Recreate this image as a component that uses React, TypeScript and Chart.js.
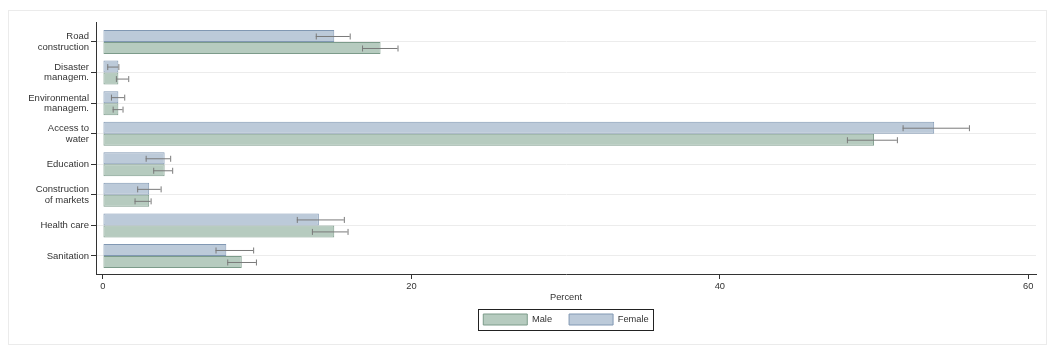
import React, { useEffect, useRef } from "react";
import { Chart, registerables } from "chart.js";

Chart.register(...registerables);

const categories: string[][] = [
  ["Road", "construction"],
  ["Disaster", "managem."],
  ["Environmental", "managem."],
  ["Access to", "water"],
  ["Education"],
  ["Construction", "of markets"],
  ["Health care"],
  ["Sanitation"],
];

const femaleValues = [15.0, 1.0, 1.0, 53.9, 4.0, 3.0, 14.0, 8.0];
const femaleLow = [13.8, 0.28, 0.52, 51.85, 2.77, 2.22, 12.57, 7.3];
const femaleHigh = [16.0, 1.0, 1.38, 56.15, 4.36, 3.74, 15.62, 9.74];

const maleValues = [18.0, 1.0, 1.0, 50.0, 4.0, 3.0, 15.0, 9.0];
const maleLow = [16.8, 0.84, 0.63, 48.24, 3.26, 2.05, 13.55, 8.06];
const maleHigh = [19.1, 1.64, 1.27, 51.48, 4.49, 3.09, 15.86, 9.92];

const xTicks = [0, 20, 40, 60];

const FONT = "'Liberation Sans', Arial, Helvetica, sans-serif";
const TEXT = "#333333";

const errorBarPlugin = {
  id: "errorBars",
  afterDatasetsDraw(chart: any) {
    const ctx = chart.ctx;
    const xs = chart.scales.x;
    chart.data.datasets.forEach((ds: any, di: number) => {
      const meta = chart.getDatasetMeta(di);
      if (meta.hidden) return;
      meta.data.forEach((el: any, i: number) => {
        const lo = xs.getPixelForValue(ds.errLow[i]);
        const hi = xs.getPixelForValue(ds.errHigh[i]);
        const y = el.y;
        ctx.save();
        ctx.strokeStyle = "#7a7a7a";
        ctx.lineWidth = 1;
        ctx.beginPath();
        ctx.moveTo(lo, y + 0.5);
        ctx.lineTo(hi, y + 0.5);
        ctx.moveTo(lo + 0.5, y - 2.5);
        ctx.lineTo(lo + 0.5, y + 3.5);
        ctx.moveTo(hi + 0.5, y - 2.5);
        ctx.lineTo(hi + 0.5, y + 3.5);
        ctx.stroke();
        ctx.restore();
      });
    });
  },
};

const legendBoxPlugin = {
  id: "legendBox",
  afterDraw(chart: any) {
    const lg = chart.legend;
    if (!lg || !lg.legendHitBoxes || !lg.legendHitBoxes.length) return;
    const hb = lg.legendHitBoxes;
    const left = Math.min(...hb.map((h: any) => h.left));
    const right = Math.max(...hb.map((h: any) => h.left + h.width));
    const top = Math.min(...hb.map((h: any) => h.top));
    const bottom = Math.max(...hb.map((h: any) => h.top + h.height));
    const ctx = chart.ctx;
    ctx.save();
    ctx.strokeStyle = "#222";
    ctx.lineWidth = 1;
    ctx.strokeRect(
      Math.round(left - 5) + 0.5,
      Math.round(top - 5) + 0.5,
      Math.round(right - left + 10),
      Math.round(bottom - top + 10)
    );
    ctx.restore();
  },
};

export default function App() {
  const ref = useRef<HTMLCanvasElement | null>(null);

  useEffect(() => {
    if (!ref.current) return;
    const chart = new Chart(ref.current, {
      type: "bar",
      data: {
        labels: categories,
        datasets: [
          {
            label: "Female",
            data: femaleValues,
            errLow: femaleLow,
            errHigh: femaleHigh,
            backgroundColor: "#bccad9",
            borderColor: "#8198b3",
            borderWidth: 1,
            borderSkipped: false,
          } as any,
          {
            label: "Male",
            data: maleValues,
            errLow: maleLow,
            errHigh: maleHigh,
            backgroundColor: "#b6cbbf",
            borderColor: "#7c9b8a",
            borderWidth: 1,
            borderSkipped: false,
          } as any,
        ],
      },
      options: {
        indexAxis: "y",
        responsive: false,
        animation: false,
        devicePixelRatio: 1,
        layout: { padding: { left: 0, right: 10, top: 11, bottom: 9 } },
        datasets: {
          bar: { categoryPercentage: 0.785, barPercentage: 1 },
        },
        scales: {
          x: {
            type: "linear",
            min: -0.45,
            max: 60.5,
            grid: {
              drawOnChartArea: false,
              tickLength: 5,
              tickColor: "#333",
            },
            border: { color: "#333", width: 1 },
            ticks: {
              color: TEXT,
              font: { family: FONT, size: 9.3 },
              padding: 2,
              stepSize: 20,
            },
            afterBuildTicks: (scale: any) => {
              scale.ticks = xTicks.map((v) => ({ value: v }));
            },
            afterFit: (scale: any) => {
              scale.height = 23;
            },
            title: {
              display: true,
              text: "Percent",
              color: TEXT,
              font: { family: FONT, size: 9.3 },
              padding: { top: 0, bottom: -6 },
            },
          },
          y: {
            type: "category",
            grid: {
              offset: false,
              color: "#ececec",
              tickLength: 5,
              tickColor: "#333",
            },
            border: { color: "#333", width: 1 },
            ticks: {
              color: TEXT,
              font: { family: FONT, size: 9.5, lineHeight: 1.1 },
              padding: 2,
            },
            afterBuildTicks: (scale: any) => {
              scale._startValue = -0.654;
              scale._valueRange = 8.243;
            },
            afterFit: (scale: any) => {
              scale.width = 87;
            },
          },
        },
        plugins: {
          legend: {
            position: "bottom",
            fullSize: false,
            reverse: true,
            labels: {
              boxWidth: 44,
              boxHeight: 11,
              padding: 17,
              color: TEXT,
              font: { family: FONT, size: 9.3 },
            },
          },
          tooltip: { enabled: false },
        },
      } as any,
      plugins: [errorBarPlugin, legendBoxPlugin],
    });
    return () => chart.destroy();
  }, []);

  return (
    <div
      style={{
        position: "absolute",
        left: 8,
        top: 10,
        width: 1039,
        height: 335,
        boxSizing: "border-box",
        border: "1px solid #ebebeb",
        background: "#fff",
      }}
    >
      <canvas ref={ref} width={1037} height={333} style={{ display: "block", width: 1037, height: 333 }} />
    </div>
  );
}
